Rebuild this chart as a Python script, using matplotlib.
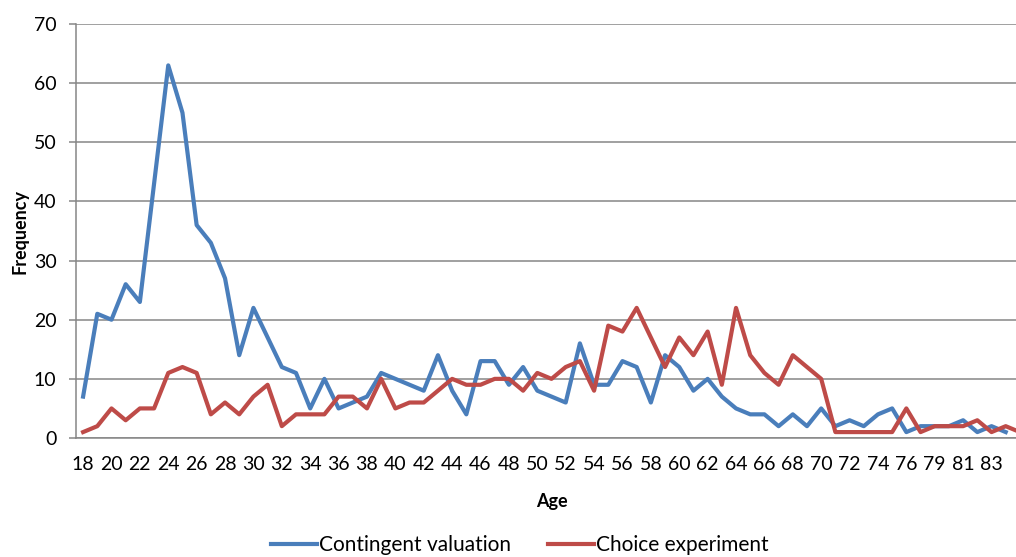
import matplotlib
matplotlib.use("Agg")
import matplotlib.pyplot as plt

plt.rcParams["font.family"] = ["Lato", "DejaVu Sans"]

BLUE, RED, GRID = "#4A7EBB", "#BE4B48", "#868686"

ages = list(range(18, 77)) + [78, 79, 80, 81, 82, 83, 84, 85]
contingent = [7, 21, 20, 26, 23, 43, 63, 55, 36, 33, 27, 14, 22, 17, 12, 11, 5, 10, 5, 6,
              7, 11, 10, 9, 8, 14, 8, 4, 13, 13, 9, 12, 8, 7, 6, 16, 9, 9, 13, 12,
              6, 14, 12, 8, 10, 7, 5, 4, 4, 2, 4, 2, 5, 2, 3, 2, 4, 5, 1, 2,
              2, 2, 3, 1, 2, 1, None]
choice = [1, 2, 5, 3, 5, 5, 11, 12, 11, 4, 6, 4, 7, 9, 2, 4, 4, 4, 7, 7,
          5, 10, 5, 6, 6, 8, 10, 9, 9, 10, 10, 8, 11, 10, 12, 13, 8, 19, 18, 22,
          17, 12, 17, 14, 18, 9, 22, 14, 11, 9, 14, 12, 10, 1, 1, 1, 1, 1, 5, 1,
          2, 2, 2, 3, 1, 2, 1]
yticks = list(range(0, 80, 10))

W, H = 1016, 557
fig = plt.figure(figsize=(W / 100, H / 100), dpi=100)
ax = fig.add_axes([76 / W, (H - 438) / H, 951 / W, 414 / H])

x = list(range(len(ages)))
cv = [float("nan") if v is None else v for v in contingent]
ax.plot(x, cv, color=BLUE, lw=3.0, solid_joinstyle="round", label="Contingent valuation")
ax.plot(x, choice, color=RED, lw=3.0, solid_joinstyle="round", label="Choice experiment")

ax.set_xlim(-0.5, len(ages) - 0.5)
ax.set_ylim(0, 70)
ax.set_yticks(yticks)
# the last category sits past the cropped right edge, so its label is not shown
ax.set_xticks(x[:-1:2])
ax.set_xticklabels([str(a) for a in ages[:-1:2]])
ax.yaxis.grid(True, color=GRID, lw=1.1)
ax.set_axisbelow(True)
for s in ["top", "right"]:
    ax.spines[s].set_visible(False)
for s in ["left", "bottom"]:
    ax.spines[s].set_color(GRID)
    ax.spines[s].set_linewidth(1.1)
ax.tick_params(axis="x", length=0, pad=13, labelsize=14)
ax.tick_params(axis="y", length=5, color=GRID, width=1.1, pad=9, labelsize=14)

ax.set_xlabel("Age", fontsize=13, fontweight="bold", labelpad=14)
ax.set_ylabel("Frequency", fontsize=13, fontweight="bold", labelpad=4)

fig.legend(loc="center", bbox_to_anchor=(520 / W, 12 / H), ncol=2, frameon=False,
           fontsize=15, handlelength=2.2, handletextpad=0.1, columnspacing=1.8)

fig.savefig("out.png", dpi=100)
